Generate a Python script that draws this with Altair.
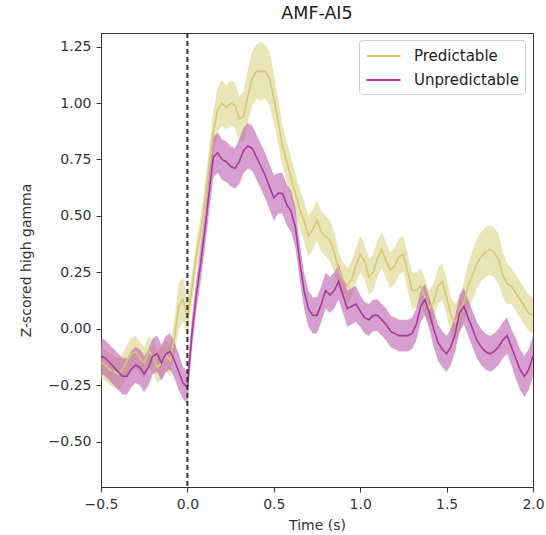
import altair as alt
import pandas as pd

# time axis (s)
times = [round(-0.5 + 0.025 * i, 3) for i in range(101)]

pred_mean = [
    -0.15, -0.16, -0.18, -0.19, -0.20, -0.18, -0.14, -0.11, -0.10, -0.13,
    -0.15, -0.10, -0.12, -0.17, -0.15, -0.12, -0.14, -0.04, 0.10, 0.13,
    0.05, 0.17, 0.32, 0.42, 0.56, 0.72, 0.87, 0.97, 1.00, 0.98,
    1.00, 0.99, 0.93, 0.94, 1.03, 1.11, 1.14, 1.14, 1.14, 1.11,
    1.02, 0.92, 0.81, 0.74, 0.67, 0.60, 0.53, 0.48, 0.41, 0.44,
    0.48, 0.43, 0.41, 0.39, 0.34, 0.26, 0.22, 0.19, 0.22, 0.28,
    0.33, 0.30, 0.23, 0.25, 0.31, 0.35, 0.30, 0.26, 0.28, 0.32,
    0.33, 0.25, 0.17, 0.17, 0.19, 0.14, 0.09, 0.12, 0.19, 0.21,
    0.14, 0.06, 0.03, 0.06, 0.12, 0.19, 0.24, 0.29, 0.32, 0.34,
    0.35, 0.34, 0.31, 0.24, 0.20, 0.19, 0.16, 0.13, 0.10, 0.07,
    0.06,
]
pred_sem = [
    0.07, 0.07, 0.07, 0.07, 0.07, 0.07, 0.07, 0.07, 0.07, 0.07,
    0.07, 0.07, 0.07, 0.07, 0.07, 0.07, 0.07, 0.08, 0.10, 0.10,
    0.08, 0.07, 0.07, 0.07, 0.07, 0.08, 0.09, 0.10, 0.10, 0.10,
    0.10, 0.10, 0.10, 0.11, 0.12, 0.12, 0.12, 0.13, 0.12, 0.12,
    0.11, 0.10, 0.09, 0.09, 0.09, 0.09, 0.09, 0.09, 0.09, 0.09,
    0.09, 0.09, 0.09, 0.09, 0.09, 0.08, 0.08, 0.08, 0.08, 0.08,
    0.08, 0.08, 0.08, 0.08, 0.08, 0.08, 0.08, 0.08, 0.08, 0.08,
    0.08, 0.08, 0.08, 0.08, 0.08, 0.08, 0.08, 0.08, 0.08, 0.08,
    0.08, 0.08, 0.08, 0.08, 0.09, 0.10, 0.11, 0.11, 0.11, 0.11,
    0.11, 0.11, 0.11, 0.10, 0.09, 0.08, 0.08, 0.08, 0.08, 0.08,
    0.08,
]
unpred_mean = [
    -0.12, -0.13, -0.15, -0.17, -0.19, -0.21, -0.21, -0.18, -0.16, -0.17,
    -0.20, -0.17, -0.12, -0.11, -0.15, -0.11, -0.10, -0.14, -0.19, -0.24,
    -0.26, -0.03, 0.14, 0.28, 0.43, 0.60, 0.76, 0.78, 0.75, 0.74,
    0.72, 0.71, 0.74, 0.79, 0.81, 0.80, 0.76, 0.72, 0.68, 0.63,
    0.58, 0.60, 0.60, 0.55, 0.52, 0.45, 0.30, 0.17, 0.09, 0.06,
    0.06, 0.11, 0.17, 0.15, 0.17, 0.21, 0.15, 0.09, 0.10, 0.11,
    0.08, 0.05, 0.04, 0.06, 0.06, 0.04, 0.02, -0.01, -0.02, -0.03,
    -0.03, -0.03, -0.02, 0.02, 0.10, 0.13, 0.07, 0.00, -0.06, -0.09,
    -0.11, -0.08, -0.02, 0.07, 0.10, 0.05, 0.00, -0.05, -0.08, -0.10,
    -0.11, -0.10, -0.08, -0.05, -0.03, -0.08, -0.13, -0.18, -0.21, -0.18,
    -0.12,
]
unpred_sem = [
    0.08, 0.08, 0.08, 0.08, 0.08, 0.08, 0.08, 0.08, 0.08, 0.08,
    0.08, 0.08, 0.08, 0.08, 0.08, 0.08, 0.08, 0.08, 0.08, 0.07,
    0.07, 0.07, 0.07, 0.08, 0.08, 0.09, 0.09, 0.09, 0.09, 0.09,
    0.09, 0.09, 0.10, 0.10, 0.10, 0.10, 0.10, 0.10, 0.10, 0.10,
    0.10, 0.09, 0.09, 0.09, 0.09, 0.09, 0.08, 0.08, 0.08, 0.08,
    0.08, 0.08, 0.08, 0.08, 0.08, 0.08, 0.08, 0.08, 0.08, 0.08,
    0.07, 0.07, 0.07, 0.07, 0.07, 0.07, 0.07, 0.07, 0.07, 0.07,
    0.07, 0.07, 0.07, 0.07, 0.07, 0.07, 0.07, 0.08, 0.08, 0.08,
    0.08, 0.08, 0.08, 0.08, 0.08, 0.08, 0.08, 0.08, 0.08, 0.08,
    0.08, 0.08, 0.08, 0.08, 0.08, 0.08, 0.09, 0.09, 0.09, 0.09,
    0.09,
]

conditions = ["Predictable", "Unpredictable"]
band_names = ["Predictable band", "Unpredictable band"]
line_colors = ["#d2c979", "#a9399c"]
fill_colors = ["#d9cf7a", "#b550a9"]

rows = []
for cond, band, means, sems in [(conditions[0], band_names[0], pred_mean, pred_sem),
                                (conditions[1], band_names[1], unpred_mean, unpred_sem)]:
    for t, m, s in zip(times, means, sems):
        rows.append({"t": t, "cond": cond, "band": band, "mean": m, "lo": m - s, "hi": m + s})
df = pd.DataFrame(rows)
onset = pd.DataFrame({"t": [0.0]})

FONT = "DejaVu Sans"

xscale = alt.Scale(domain=[-0.5, 2.0], nice=False, zero=False)
yscale = alt.Scale(domain=[-0.70, 1.31], nice=False, zero=False)

xaxis = alt.Axis(title="Time (s)", values=[-0.5, 0.0, 0.5, 1.0, 1.5, 2.0], format=".1f",
                 grid=False, tickSize=5, labelPadding=5, titlePadding=7, labelFlush=False)
yaxis = alt.Axis(title="Z-scored high gamma", values=[-0.5, -0.25, 0, 0.25, 0.5, 0.75, 1.0, 1.25],
                 format=".2f", grid=False, tickSize=5, labelPadding=5, titlePadding=15, labelFlush=False)

base = alt.Chart(df)

bands = base.mark_area(fillOpacity=0.55, strokeWidth=0).encode(
    x=alt.X("t:Q", scale=xscale, axis=xaxis),
    y=alt.Y("lo:Q", scale=yscale, axis=yaxis),
    y2="hi:Q",
    fill=alt.Fill("band:N", scale=alt.Scale(domain=band_names, range=fill_colors), legend=None),
    detail="band:N",
)

lines = base.mark_line(strokeWidth=1.6).encode(
    x=alt.X("t:Q", scale=xscale),
    y=alt.Y("mean:Q", scale=yscale),
    stroke=alt.Stroke(
        "cond:N",
        scale=alt.Scale(domain=conditions, range=line_colors),
        legend=alt.Legend(
            title=None, orient="none", legendX=258, legendY=7,
            symbolType="M-1,0H3", symbolSize=289, symbolStrokeWidth=2.2,
            labelFont=FONT, labelFontSize=15, labelColor="#222",
            padding=6, rowPadding=6, symbolOffset=0, labelOffset=29,
            strokeColor="#d0d0d0", fillColor="white", cornerRadius=3,
        ),
    ),
)

vline = alt.Chart(onset).mark_rule(strokeDash=[5, 3], strokeWidth=2, color="#333333").encode(
    x=alt.X("t:Q", scale=xscale)
)

chart = alt.layer(bands, lines, vline).properties(
    width=432,
    height=454,
    title=alt.TitleParams("AMF-AI5", font=FONT, fontSize=17.5, fontWeight="normal", color="#222", offset=10),
    autosize=alt.AutoSizeParams(type="none"),
    padding={"left": 101, "top": 33, "right": 13, "bottom": 48},
    background="white",
).configure_axis(
    labelFont=FONT, labelFontSize=14, labelColor="#333",
    titleFont=FONT, titleFontSize=14, titleFontWeight="normal", titleColor="#333",
    domainColor="#333", tickColor="#333", domainWidth=1,
).configure_view(
    stroke="#333", strokeWidth=1,
)

chart.save("out.html", embed_options={"renderer": "svg", "actions": False})
